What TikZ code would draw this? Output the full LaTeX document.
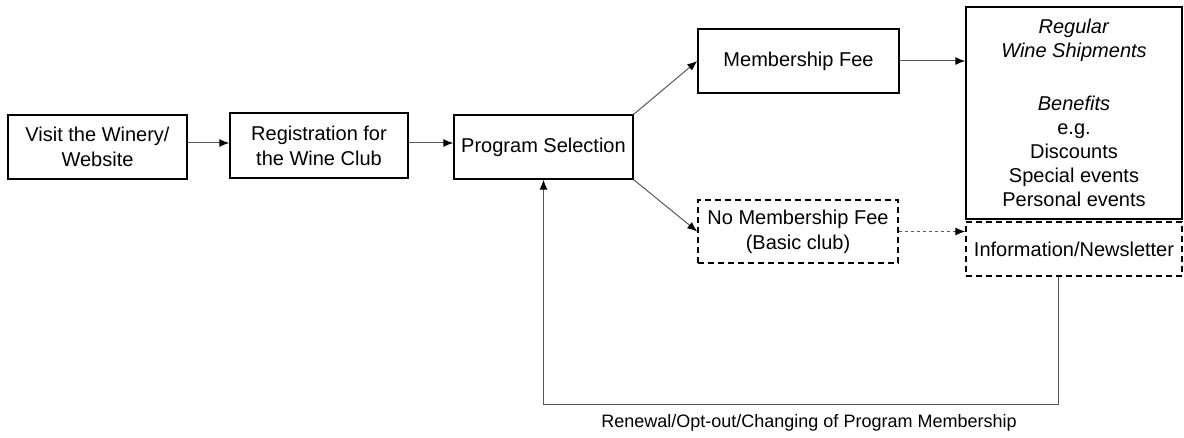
\documentclass[tikz,border=0pt]{standalone}
\usepackage{fontspec}
\setmainfont{Liberation Sans}
\usetikzlibrary{arrows.meta}
\usetikzlibrary{positioning, calc}

\tikzset{
  box/.style={draw, line width=0.75pt, align=center, inner sep=0pt,
    font=\fontsize{10}{12.5}\selectfont},
  dashbox/.style={box, dash pattern=on 3pt off 2pt},
  link/.style={-{Latex[length=5pt,width=4pt,color=black]}, draw=black!65, line width=0.5pt},
}

\begin{document}
\begin{tikzpicture}[x=0.5pt, y=-0.5pt]
\useasboundingbox (0,0) rectangle (1184,438);

\node [box, minimum width=89.5pt, minimum height=32pt] (visit) at (97.5,147) {Visit the Winery/\\Website};
\node [box, minimum width=89pt, minimum height=32.5pt] (reg) at (319,145.5) {Registration for\\the Wine Club};
\node [box, minimum width=89.5pt, minimum height=32pt] (prog) at (543.5,147) {Program Selection};

\node [box, minimum width=100.5pt, minimum height=32pt] (fee) at (798.5,61) {Membership Fee};
\node [dashbox, minimum width=100pt, minimum height=31.5pt] (nofee) at (798,231.5) {No Membership Fee\\(Basic club)};

\node [box, minimum width=108pt, minimum height=106pt, font=\fontsize{10}{12}\selectfont] (ship) at (1074,113)
  {\textit{Regular}\\\textit{Wine Shipments}\\[14.5pt]\textit{Benefits}\\e.g.\\Discounts\\Special events\\Personal events};
\node [dashbox, minimum width=108pt, minimum height=27pt] (info) at (1074,249) {Information/Newsletter};

\coordinate (back) at (1058,404);
\coordinate (flow) at (0,143);

\draw [link] (visit.east |- flow) -- (reg.west |- flow);
\draw [link] (reg.east |- flow) -- (prog.west |- flow);
\draw [link] (prog.north east) -- (fee.west);
\draw [link] (prog.south east) -- (nofee.west);
\draw [link] (fee.east) -- (fee.east -| ship.west);
\draw [link, dash pattern=on 1.5pt off 1.5pt] (nofee.east) -- (nofee.east -| info.west);
\draw [link] (info.south -| back) -- (back) -| (prog.south);

\node [font=\fontsize{9}{11}\selectfont] (renew) at (809,423) {Renewal/Opt-out/Changing of Program Membership};

\end{tikzpicture}
\end{document}
